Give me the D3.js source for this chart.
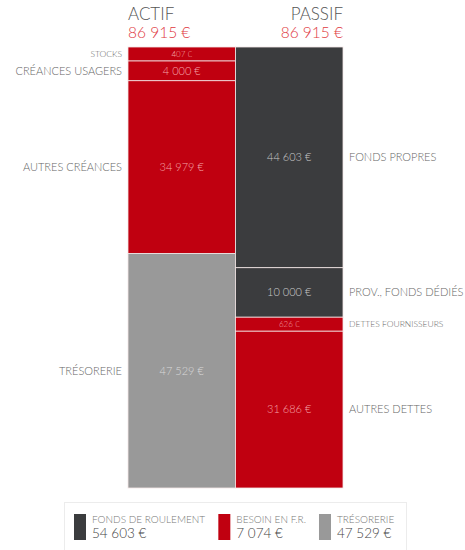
<!DOCTYPE html>
<meta charset="utf-8">
<style>
  body { margin: 0; background: #fff; font-family: Lato, "Open Sans", sans-serif; }
  text { font-weight: 300; }
</style>
<body>
<div id="chart"></div>
<script src="https://d3js.org/d3.v7.min.js"></script>
<script>
  const actifLabels = ["STOCKS", "CRÉANCES USAGERS", "AUTRES CRÉANCES", "TRÉSORERIE"];
  const actifValues = [407, 4000, 34979, 47529];
  const actifTypes = ["bfr", "bfr", "bfr", "treso"];

  const passifLabels = ["FONDS PROPRES", "PROV., FONDS DÉDIÉS", "DETTES FOURNISSEURS", "AUTRES DETTES"];
  const passifValues = [44603, 10000, 626, 31686];
  const passifTypes = ["fr", "fr", "bfr", "bfr"];

  const legendLabels = ["FONDS DE ROULEMENT", "BESOIN EN F.R.", "TRÉSORERIE"];
  const legendValues = [54603, 7074, 47529];
  const legendTypes = ["fr", "bfr", "treso"];

  const width = 465, height = 550;
  const barTop = 47, barBottom = 488, minH = 14;

  const color = d3.scaleOrdinal()
    .domain(["fr", "bfr", "treso"])
    .range(["#3b3c3e", "#c00010", "#999999"]);
  const textColor = d3.scaleOrdinal()
    .domain(["fr", "bfr", "treso"])
    .range(["#c8c8c8", "#f4a3a8", "#d8d8d8"]);

  const locale = d3.formatLocale({ decimal: ",", thousands: " ", grouping: [3], currency: ["", " €"] });
  const fmt = v => locale.format(",")(v) + " €";

  const x = d3.scaleBand().domain(["ACTIF", "PASSIF"]).range([128, 343]);

  const svg = d3.select("#chart").append("svg")
    .attr("width", width).attr("height", height);

  // segments smaller than minH get minH, the rest share what is left
  function stack(labels, values, types) {
    const full = d3.scaleLinear().domain([0, d3.sum(values)]).range([0, barBottom - barTop]);
    const small = values.map(v => full(v) < minH);
    const nSmall = small.filter(s => s).length;
    const rest = d3.sum(values.filter((v, i) => !small[i]));
    const y = d3.scaleLinear().domain([0, rest]).range([0, barBottom - barTop - nSmall * minH]);
    let acc = barTop;
    return values.map((v, i) => {
      const h = small[i] ? minH : y(v);
      const d = { label: labels[i], value: v, type: types[i], y0: acc, h: h, small: small[i] };
      acc += h;
      return d;
    });
  }

  const columns = [
    { name: "ACTIF", side: "left", segs: stack(actifLabels, actifValues, actifTypes) },
    { name: "PASSIF", side: "right", segs: stack(passifLabels, passifValues, passifTypes) }
  ];

  columns.forEach(col => {
    const g = svg.append("g");
    const x0 = x(col.name), bw = x.bandwidth();

    g.selectAll("rect")
      .data(col.segs)
      .join("rect")
      .attr("x", x0)
      .attr("y", d => d.y0)
      .attr("width", bw)
      .attr("height", d => d.h)
      .attr("fill", d => color(d.type))
      .attr("stroke", "#f3e6e6")
      .attr("stroke-width", 0.8);

    g.selectAll("text.val")
      .data(col.segs)
      .join("text")
      .attr("class", "val")
      .attr("x", x0 + bw / 2)
      .attr("y", d => d.y0 + d.h / 2)
      .attr("dy", "0.35em")
      .attr("text-anchor", "middle")
      .attr("font-size", d => d.small ? 8 : 11)
      .attr("fill", d => textColor(d.type))
      .text(d => fmt(d.value));

    g.selectAll("text.cat")
      .data(col.segs)
      .join("text")
      .attr("class", "cat")
      .attr("x", col.side === "left" ? x0 - 6 : x0 + bw + 6)
      .attr("y", d => d.y0 + d.h / 2)
      .attr("dy", "0.35em")
      .attr("text-anchor", col.side === "left" ? "end" : "start")
      .attr("font-size", d => d.small ? 8.5 : 11)
      .attr("fill", "#666")
      .text(d => d.label);

    const hx = col.side === "left" ? x0 : x0 + bw;
    const anchor = col.side === "left" ? "start" : "end";
    svg.append("text")
      .attr("x", hx).attr("y", 20)
      .attr("text-anchor", anchor)
      .attr("font-size", 17)
      .attr("fill", "#555")
      .text(col.name);
    svg.append("text")
      .attr("x", hx).attr("y", 38)
      .attr("text-anchor", anchor)
      .attr("font-size", 15.5)
      .attr("fill", "#e0383e")
      .text(fmt(d3.sum(col.segs, d => d.value)));
  });

  // legend: items flow left to right, spaced by their label widths
  const legend = svg.append("g");
  legend.append("rect")
    .attr("x", 64.5).attr("y", 502.5)
    .attr("width", 342).attr("height", 52)
    .attr("fill", "#fff")
    .attr("stroke", "#ececec");

  const item = legend.selectAll("g.item")
    .data(legendTypes.map((t, i) => ({ type: t, label: legendLabels[i], value: legendValues[i] })))
    .join("g")
    .attr("class", "item");
  item.append("rect")
    .attr("width", 12).attr("height", 26)
    .attr("fill", d => color(d.type));
  item.append("text")
    .attr("x", 18).attr("y", 9)
    .attr("font-size", 10)
    .attr("fill", "#777")
    .text(d => d.label);
  item.append("text")
    .attr("x", 18).attr("y", 24)
    .attr("font-size", 13.5)
    .attr("fill", "#444")
    .text(d => fmt(d.value));

  let lx = 74;
  item.each(function () {
    const g = d3.select(this);
    g.attr("transform", `translate(${lx},514)`);
    lx += this.getBBox().width + 13;
  });
</script>
</body>
